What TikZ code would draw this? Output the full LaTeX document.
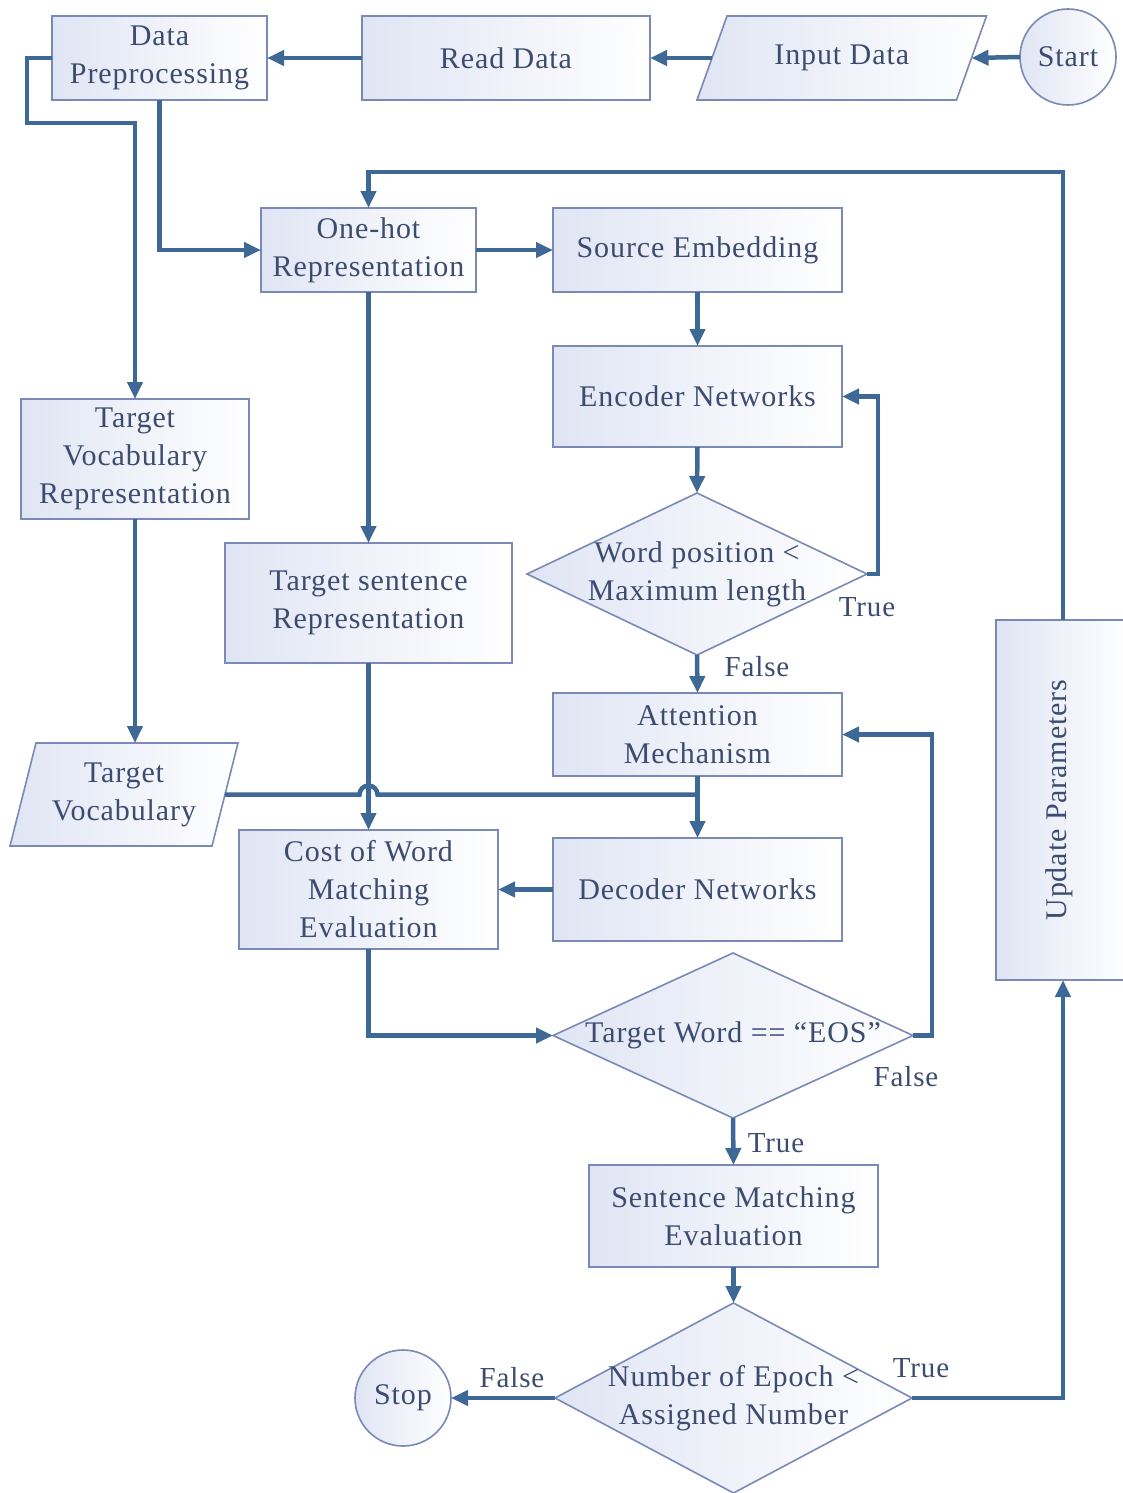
\documentclass[tikz,border=0pt]{standalone}
\usepackage{fontspec}
\setmainfont[LetterSpace=3]{Liberation Serif}
\usetikzlibrary{arrows.meta,shapes.geometric,backgrounds}

\definecolor{inkblue}{RGB}{60,76,112}
\definecolor{edgeblue}{RGB}{122,137,182}
\definecolor{shadeblue}{RGB}{224,229,244}
\definecolor{flowblue}{RGB}{62,105,150}

\tikzset{
  base/.style={draw=edgeblue, line width=1.6pt, left color=shadeblue, right color=white,
               text=inkblue, inner sep=0pt, outer sep=0pt, align=center,
               font=\fontsize{30}{38}\selectfont},
  box/.style={base, rectangle},
  ring/.style={base, circle, minimum size=96pt},
  rhomb/.style={base, diamond},
  slab/.style={rectangle, draw=none, inner sep=0pt, outer sep=0pt, align=center,
               text=inkblue, font=\fontsize{30}{38}\selectfont},
  lbl/.style={text=inkblue, inner sep=0pt, font=\fontsize{29}{32}\selectfont},
  conn/.style={draw=flowblue, line width=4.5pt, -{Triangle[length=17pt,width=15pt]}},
  plain/.style={draw=flowblue, line width=4.5pt},
  skew/.style={draw=edgeblue, line width=1.6pt, left color=shadeblue, right color=white}
}

\begin{document}
\begin{tikzpicture}[x=1pt, y=-1pt]
\useasboundingbox (0,0) rectangle (1122,1493);

% process boxes
\node[box, minimum width=215pt, minimum height=84pt] (dp) at (159.5,58) {Data\\Preprocessing};
\node[box, minimum width=288pt, minimum height=84pt] (read) at (506,58) {Read Data};
\node[ring] (start) at (1068,57) {Start};
\node[box, minimum width=215pt, minimum height=84pt] (oh) at (368.5,250) {One-hot\\Representation};
\node[box, minimum width=289pt, minimum height=84pt] (se) at (697.5,250) {Source Embedding};
\node[box, minimum width=289pt, minimum height=101pt] (enc) at (697.5,396.5) {Encoder Networks};
\node[box, minimum width=228pt, minimum height=120pt] (tvr) at (135,459) {Target\\Vocabulary\\Representation};
\node[box, minimum width=287pt, minimum height=120pt] (tsr) at (368.5,603) {Target sentence\\Representation};
\node[box, minimum width=289pt, minimum height=83pt] (attn) at (697.5,734.5) {Attention\\Mechanism};
\node[box, minimum width=259pt, minimum height=119pt] (cost) at (368.5,889.5) {Cost of Word\\Matching\\Evaluation};
\node[box, minimum width=289pt, minimum height=103pt] (dec) at (697.5,889.5) {Decoder Networks};
\node[box, minimum width=289pt, minimum height=102pt] (sme) at (733.5,1216) {Sentence Matching\\Evaluation};
\node[box, minimum width=134pt, minimum height=360pt] (upd) at (1063,800) {};
\node[slab, rotate=90] (updt) at (1059,800) {Update Parameters};
\node[ring] (stop) at (403,1398) {Stop};

% decisions
\node[rhomb, minimum width=340pt, minimum height=162pt] (d1) at (697,574) {};
\node[slab] (d1t) at (697,574) {Word position <\\Maximum length};
\node[rhomb, minimum width=360pt, minimum height=165pt] (d2) at (733,1035.5) {};
\node[slab] (d2t) at (733,1035.5) {Target Word == “EOS”};
\node[rhomb, minimum width=357pt, minimum height=190pt] (d3) at (733.5,1398) {};
\node[slab] (d3t) at (733.5,1398) {Number of Epoch <\\Assigned Number};

% data (parallelogram) nodes
\node[slab, minimum width=259.5pt, minimum height=84pt] (in) at (841.75,58) {Input Data};
\node[slab, minimum width=202pt, minimum height=103pt] (tv) at (124,794.5) {Target\\Vocabulary};
\begin{scope}[on background layer]
  \fill[white] (0,0) rectangle (1122,1493);
  \path[skew] ([xshift=15pt]in.north west) -- ([xshift=15pt]in.north east)
     -- ([xshift=-15pt]in.south east) -- ([xshift=-15pt]in.south west) -- cycle;
  \path[skew] ([xshift=13pt]tv.north west) -- ([xshift=13pt]tv.north east)
     -- ([xshift=-13pt]tv.south east) -- ([xshift=-13pt]tv.south west) -- cycle;
\end{scope}

% branch labels
\node[lbl] (t1) at (867,607) {True};
\node[lbl] (f1) at (757,667) {False};
\node[lbl] (f2) at (906,1077) {False};
\node[lbl] (t2) at (776,1143) {True};
\node[lbl] (f3) at (512,1378) {False};
\node[lbl] (t3) at (921,1368) {True};

\coordinate (loopy) at (0,172);
\coordinate (splity) at (0,123);

% connectors
\draw[conn] (start.west) -- (in.east);
\draw[conn] (in.west) -- (read.east);
\draw[conn] (read.west) -- (dp.east);
\draw[conn] (dp.west) -- ++(-25,0) |- (splity -| tvr.north) -- (tvr.north);
\draw[conn] (dp.south) |- (oh.west);
\draw[conn] (oh.east) -- (se.west);
\draw[conn] (se.south) -- (enc.north);
\draw[conn] (enc.south) -- (d1.north);
\draw[conn] (d1.east) -- ++(11,0) |- (enc.east);
\draw[conn] (d1.south) -- (attn.north);
\draw[conn] (attn.south) -- (dec.north);
\draw[conn] (oh.south) -- (tsr.north);
\draw[conn] (tsr.south) -- (cost.north);
\draw[conn] (tvr.south) -- (tvr.south |- tv.north);
\draw[plain] (tv.east) -- ([xshift=-9pt]tsr.south |- tv.east)
   arc[start angle=180, end angle=0, radius=9pt] -- (attn.south |- tv.east);
\draw[conn] (dec.west) -- (cost.east);
\draw[conn] (cost.south) |- (d2.west);
\draw[conn] (d2.east) -- ++(19,0) |- (attn.east);
\draw[conn] (d2.south) -- (sme.north);
\draw[conn] (sme.south) -- (d3.north);
\draw[conn] (d3.west) -- (stop.east);
\draw[conn] (d3.east) -| (upd.south);
\draw[conn] (upd.north) -- (upd.north |- loopy) -| (oh.north);
\end{tikzpicture}
\end{document}
